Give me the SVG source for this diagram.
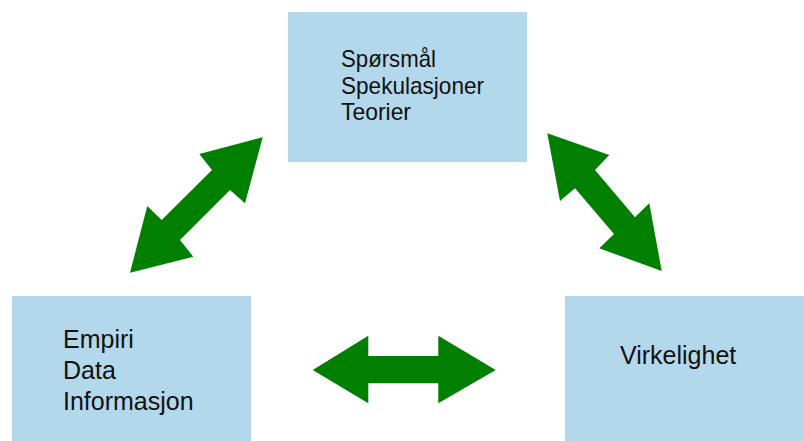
<svg xmlns="http://www.w3.org/2000/svg" width="804" height="441" viewBox="0 0 804 441">
  <style>
    .box { fill: #b3d8eb; }
    .lbl { font-family: "Liberation Sans", Arial, sans-serif; font-size: 25px; fill: #111111; }
    .lbl.top { font-size: 24px; }
    .arrow { fill: #007f00; }
  </style>
  <rect width="804" height="441" fill="#ffffff"/>

  <g id="node-teori">
    <rect class="box" x="288" y="12" width="239" height="150"/>
    <text class="lbl top" x="341" y="67" textLength="95" lengthAdjust="spacingAndGlyphs">Spørsmål</text>
    <text class="lbl top" x="341" y="94" textLength="143" lengthAdjust="spacingAndGlyphs">Spekulasjoner</text>
    <text class="lbl top" x="341" y="120" textLength="70" lengthAdjust="spacingAndGlyphs">Teorier</text>
  </g>

  <g id="node-empiri">
    <rect class="box" x="12" y="296" width="239" height="145"/>
    <text class="lbl" x="63" y="348">Empiri</text>
    <text class="lbl" x="63" y="379">Data</text>
    <text class="lbl" x="63" y="410">Informasjon</text>
  </g>

  <g id="node-virkelighet">
    <rect class="box" x="565" y="296" width="239" height="145"/>
    <text class="lbl" x="620" y="364">Virkelighet</text>
  </g>

  <g id="connectors">
    <polygon class="arrow" points="262.7,137.3 199.3,154 212,170 161.7,220 147.3,206 130,272.7 193.3,256.7 180,240 230,190 245,203.3"/>
    <polygon class="arrow" points="547.3,133.3 609.3,155 595,170 635,217.3 649.3,203.3 661.7,271 599.3,248.3 614,234 575,188.3 560,201"/>
    <polygon class="arrow" points="312.7,370 368.3,335.7 368.3,356 438.3,356 438.3,335.7 495.7,370 438.3,403.3 438.3,383.3 368.3,383.3 368.3,403.3"/>
  </g>
</svg>
